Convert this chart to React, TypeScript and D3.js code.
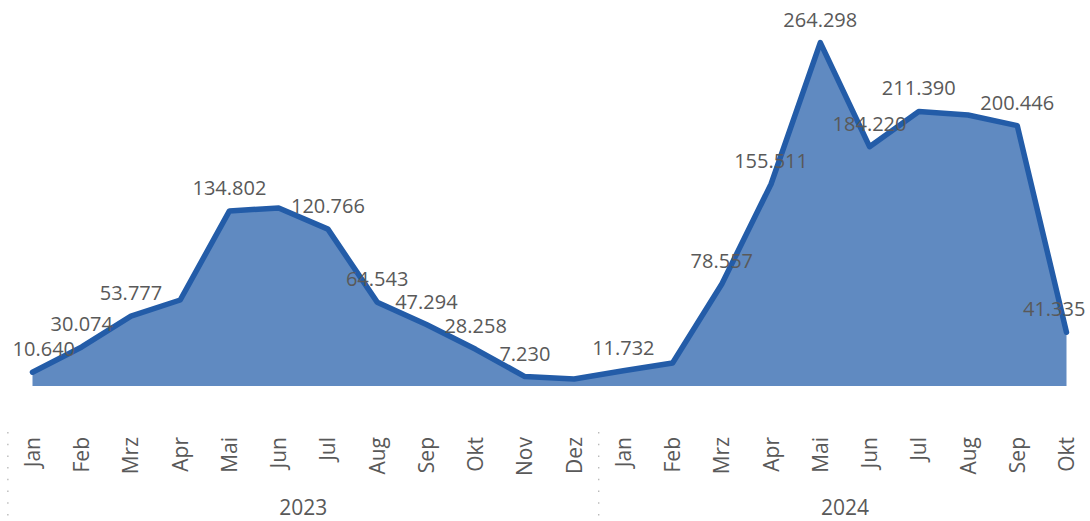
import React from 'react';
import * as d3 from 'd3';

const MONTHS = ['Jan', 'Feb', 'Mrz', 'Apr', 'Mai', 'Jun', 'Jul', 'Aug', 'Sep', 'Okt', 'Nov', 'Dez',
  'Jan', 'Feb', 'Mrz', 'Apr', 'Mai', 'Jun', 'Jul', 'Aug', 'Sep', 'Okt'];
const YEARS = ['2023', '2024'];
const YEAR_OF = [0, 0, 0, 0, 0, 0, 0, 0, 0, 0, 0, 0, 1, 1, 1, 1, 1, 1, 1, 1, 1, 1];
const VALUES = [10.640, 30.074, 53.777, 66.2, 134.802, 137.0, 120.766, 64.543, 47.294, 28.258, 7.230, 5.4,
  11.732, 17.7, 78.557, 155.511, 264.298, 184.220, 211.390, 208.6, 200.446, 41.335];
// labels the original hid to avoid overlaps
const SHOW_LABEL = [true, true, true, false, true, false, true, true, true, true, true, false,
  true, false, true, true, true, true, true, false, true, true];

const W = 1090;
const H = 521;
const FONT = '"Open Sans", "Segoe UI", sans-serif';
const TEXT = '#595959';

export default function App() {
  const idx = d3.range(VALUES.length);
  const x = d3.scalePoint<number>().domain(idx).range([32.5, 1066.5]);
  const y = d3.scaleLinear().domain([0, 300]).range([386, -3.7]);

  const area = d3.area<number>()
    .x((d, i) => x(i) as number)
    .y0(y(0))
    .y1(d => y(d));
  const line = d3.line<number>()
    .x((d, i) => x(i) as number)
    .y(d => y(d));

  const fmt = (v: number) => d3.format(',.3f')(v).replace(/,/g, '');

  // year groups
  const groups = YEARS.map((yr, g) => {
    const members = idx.filter(i => YEAR_OF[i] === g);
    const x0 = x(members[0]) as number;
    const x1 = x(members[members.length - 1]) as number;
    return { yr, mid: (x0 + x1) / 2, first: members[0] };
  });
  const step = x.step();

  return (
    <svg width={W} height={H} style={{ position: 'absolute', left: 0, top: 0 }} fontFamily={FONT}>
      <path d={area(VALUES) || ''} fill="#608ac1" />
      <path d={line(VALUES) || ''} fill="none" stroke="#235ca8" strokeWidth={5.5}
        strokeLinejoin="round" strokeLinecap="round" />

      {VALUES.map((v, i) => {
        if (!SHOW_LABEL[i]) return null;
        const txt = fmt(v);
        const half = txt.length * 5.3;
        const cx = Math.min(Math.max(x(i) as number, 12 + half), 1086 - half);
        return (
          <text key={i} x={cx} y={y(v) - 16} textAnchor="middle" fontSize={20} fill={TEXT}>{txt}</text>
        );
      })}

      {MONTHS.map((m, i) => (
        <text key={i} transform={`translate(${(x(i) as number) + 7.5},437) rotate(-90)`}
          textAnchor="end" fontSize={21} fill={TEXT}>{m}</text>
      ))}

      {groups.map(g => (
        <g key={g.yr}>
          <line x1={(x(g.first) as number) - step / 2} x2={(x(g.first) as number) - step / 2}
            y1={432} y2={520} stroke="#b0b0b0" strokeWidth={1.2} strokeDasharray="1.5,10.2" />
          <text x={g.mid} y={515} textAnchor="middle" fontSize={21} fill={TEXT}>{g.yr}</text>
        </g>
      ))}
    </svg>
  );
}
